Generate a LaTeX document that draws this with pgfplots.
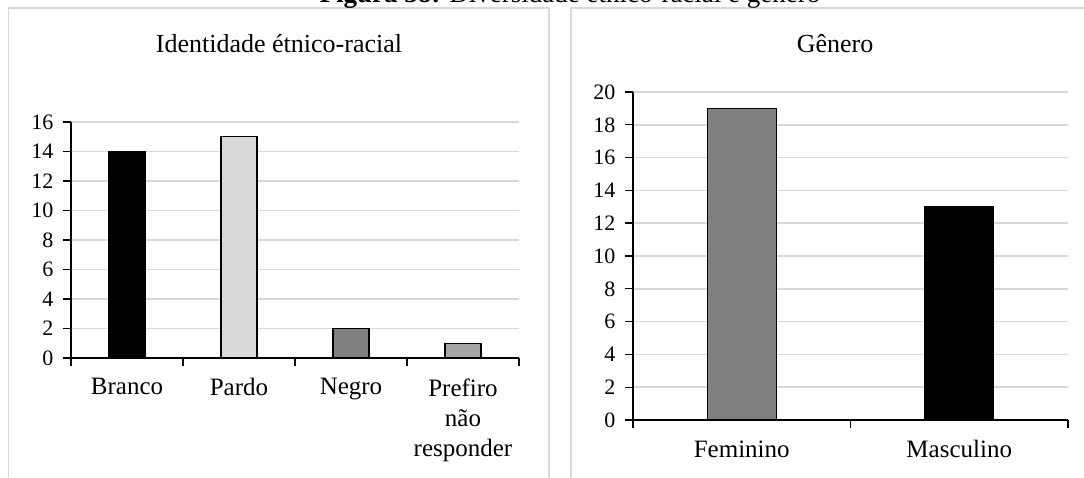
\documentclass[border=0pt]{standalone}
\usepackage{fontspec}
\setmainfont{Liberation Serif}
\usepackage{pgfplots}
\pgfplotsset{compat=1.18}
\definecolor{gridc}{HTML}{D9D9D9}
\definecolor{boxc}{HTML}{D9D9D9}
\definecolor{lgray}{HTML}{D9D9D9}
\definecolor{mgray}{HTML}{808080}
\definecolor{agray}{HTML}{A6A6A6}
\pgfplotsset{
  common/.style={
    scale only axis,
    axis x line*=bottom, axis y line*=left,
    axis line style={black, line width=1.4pt},
    ymajorgrids, grid style={gridc, line width=1.5pt},
    tick align=outside, major tick length=8pt,
    tick style={black, line width=1.4pt},
    x tick label as interval,
    xticklabel style={font=\fontsize{25}{30}\selectfont, align=center, yshift=-9pt},
    yticklabel style={font=\fontsize{22}{26}\selectfont, xshift=-6pt},
    /pgf/number format/assume math mode=true,
    ymin=0, clip=false,
  }
}
\begin{document}
\begin{tikzpicture}[x=1pt,y=1pt]
% panel boxes
\draw[boxc, line width=1.4pt] (8.5,-20) -- (8.5,469) -- (549,469) -- (549,-20);
\draw[boxc, line width=1.4pt] (571,-20) -- (571,469) -- (1110,469) -- (1110,-20);
% caption (partly cut off at top, as in the reference)
\node[anchor=base, font=\fontsize{27}{32}\selectfont] at (570,474) {\textbf{Figura 38:} Diversidade étnico-racial e gênero};
% titles
\node[anchor=base, font=\fontsize{26}{30}\selectfont] at (279,424) {Identidade étnico-racial};
\node[anchor=base, font=\fontsize{26}{30}\selectfont] at (835,424) {Gênero};

\begin{axis}[common,
  at={(71pt,119pt)}, anchor=south west,
  width=448pt, height=236pt,
  xmin=-0.5, xmax=3.5, ymax=16,
  xtick={-0.5,0.5,1.5,2.5,3.5},
  xticklabels={Branco,Pardo,Negro,{Prefiro\\não\\responder}},
  ytick={0,2,...,16},
  ybar, bar width=36pt, bar shift=0pt,
]
\addplot[draw=black, line width=1.3pt, fill=black] coordinates {(0,14)};
\addplot[draw=black, line width=1.3pt, fill=lgray] coordinates {(1,15)};
\addplot[draw=black, line width=1.3pt, fill=mgray] coordinates {(2,2)};
\addplot[draw=black, line width=1.3pt, fill=agray] coordinates {(3,1)};
\end{axis}

\begin{axis}[common,
  at={(633pt,57pt)}, anchor=south west,
  width=435pt, height=328pt,
  xmin=-0.5, xmax=1.5, ymax=20,
  xtick={-0.5,0.5,1.5},
  xticklabels={Feminino,Masculino},
  ytick={0,2,...,20},
  ybar, bar width=69pt, bar shift=0pt,
]
\addplot[draw=black, line width=1.3pt, fill=mgray] coordinates {(0,19)};
\addplot[draw=black, line width=1.3pt, fill=black] coordinates {(1,13)};
\end{axis}

\pgfresetboundingbox
\path[use as bounding box] (0,0) rectangle (1084,477);
\end{tikzpicture}
\end{document}
